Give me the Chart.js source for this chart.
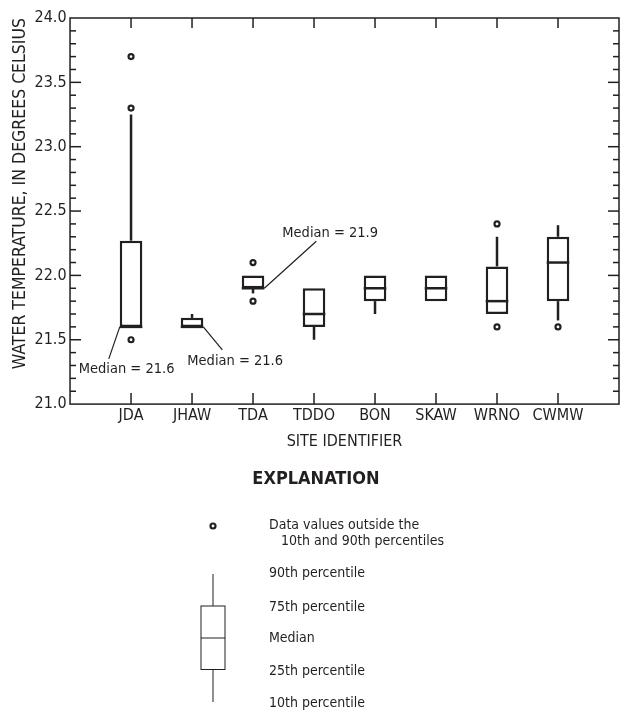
<!DOCTYPE html>
<html>
<head>
<meta charset="utf-8">
<title>Water temperature by site</title>
<script src="https://cdn.jsdelivr.net/npm/chart.js@4.4.1/dist/chart.umd.min.js"></script>
<style>
  html, body { margin: 0; padding: 0; background: #fff; }
</style>
</head>
<body>
<canvas id="tempChart" width="621" height="710"></canvas>
<script>
// site order along the x axis
const sites = ['JDA', 'JHAW', 'TDA', 'TDDO', 'BON', 'SKAW', 'WRNO', 'CWMW'];

// percentiles, degrees Celsius
const p10    = [21.60, 21.60, 21.86, 21.50, 21.70, 21.80, 21.70, 21.65];
const q1     = [21.60, 21.60, 21.90, 21.60, 21.80, 21.80, 21.70, 21.80];
const median = [21.60, 21.60, 21.90, 21.70, 21.90, 21.90, 21.80, 22.10];
const q3     = [22.27, 21.67, 22.00, 21.90, 22.00, 22.00, 22.07, 22.30];
const p90    = [23.25, 21.70, 22.00, 21.90, 22.00, 22.00, 22.30, 22.39];

// values outside the 10th and 90th percentiles
const outliers = [[23.7, 23.3, 21.5], [], [22.1, 21.8], [], [], [], [22.4, 21.6], [21.6]];

// sites that get a "Median = " callout
const notedSites = ['JDA', 'JHAW', 'TDA'];

const legendLabels = ['90th percentile', '75th percentile', 'Median', '25th percentile', '10th percentile'];

const ink = '#231f20';
const family = "'Liberation Sans Narrow', 'DejaVu Sans Condensed', 'Arial Narrow', sans-serif";

function seg(ctx, x1, y1, x2, y2) {
    ctx.beginPath();
    ctx.moveTo(x1, y1);
    ctx.lineTo(x2, y2);
    ctx.stroke();
}

const boxExtras = {
    id: 'boxExtras',
    beforeDatasetsDraw(chart) {
        const {ctx, scales: {x, y}} = chart;
        ctx.save();
        ctx.strokeStyle = ink;
        ctx.lineWidth = 2.5;
        // whiskers
        sites.forEach((s, i) => {
            const px = x.getPixelForValue(i + 1);
            if (p90[i] > q3[i]) seg(ctx, px, y.getPixelForValue(q3[i]), px, y.getPixelForValue(p90[i]));
            if (p10[i] < q1[i]) seg(ctx, px, y.getPixelForValue(q1[i]), px, y.getPixelForValue(p10[i]));
        });
        ctx.restore();
    },
    afterDatasetsDraw(chart) {
        const {ctx, chartArea: a, scales: {x, y}} = chart;
        const bars = chart.getDatasetMeta(0).data;
        ctx.save();
        ctx.strokeStyle = ink;

        // median lines
        ctx.lineWidth = 2.5;
        bars.forEach((bar, i) => {
            const {x: cx, width} = bar.getProps(['x', 'width'], true);
            const my = y.getPixelForValue(median[i]);
            seg(ctx, cx - width / 2, my, cx + width / 2, my);
        });

        // frame
        ctx.lineWidth = 1.5;
        ctx.strokeRect(a.left, a.top, a.right - a.left, a.bottom - a.top);

        // inward tick marks
        for (let k = 1; k < 30; k++) {
            const py = y.getPixelForValue(21 + k / 10);
            const len = k % 5 === 0 ? 11 : 6;
            seg(ctx, a.left, py, a.left + len, py);
            seg(ctx, a.right, py, a.right - len, py);
        }
        sites.forEach((s, i) => {
            const px = x.getPixelForValue(i + 1);
            seg(ctx, px, a.bottom, px, a.bottom - 11);
            seg(ctx, px, a.top, px, a.top + 10);
        });

        // median callouts
        ctx.lineWidth = 1.2;
        ctx.fillStyle = ink;
        ctx.font = '14.5px ' + family;
        ctx.textBaseline = 'middle';
        notedSites.forEach(name => {
            const i = sites.indexOf(name);
            const {x: cx, width} = bars[i].getProps(['x', 'width'], true);
            const my = y.getPixelForValue(median[i]);
            const label = 'Median = ' + median[i].toFixed(1);
            if (name === 'JDA') {
                const ax = cx - width / 2;
                seg(ctx, ax, my, ax - 11, my + 32);
                ctx.fillText(label, ax - 41, my + 42);
            } else if (name === 'JHAW') {
                const ax = cx + width / 2;
                seg(ctx, ax, my, ax + 19, my + 23);
                ctx.fillText(label, ax - 16, my + 34);
            } else {
                const ax = cx + width / 2;
                seg(ctx, ax, my, ax + 52, my - 47);
                ctx.fillText(label, ax + 18, my - 55);
            }
        });
        ctx.restore();
    },
    afterDraw(chart) {
        // explanation key under the plot
        const {ctx} = chart;
        const gx = 213, tx = 269;
        ctx.save();
        ctx.fillStyle = ink;
        ctx.strokeStyle = ink;
        ctx.textBaseline = 'middle';

        ctx.font = 'bold 18px ' + family;
        ctx.textAlign = 'center';
        ctx.fillText('EXPLANATION', 316, 479);

        ctx.textAlign = 'left';
        ctx.font = '14px ' + family;
        ctx.lineWidth = 2.2;
        ctx.beginPath();
        ctx.arc(gx, 526, 2.5, 0, Math.PI * 2);
        ctx.stroke();
        ctx.fillText('Data values outside the', tx, 525);
        ctx.fillText('10th and 90th percentiles', tx + 12, 541);

        ctx.lineWidth = 1;
        seg(ctx, gx, 574, gx, 606);
        ctx.strokeRect(201, 606, 24, 63.5);
        seg(ctx, 201, 638, 225, 638);
        seg(ctx, gx, 669.5, gx, 702);

        const rows = [573, 607, 638, 671, 703];
        legendLabels.forEach((t, i) => ctx.fillText(t, tx, rows[i]));
        ctx.restore();
    }
};

new Chart(document.getElementById('tempChart'), {
    type: 'bar',
    data: {
        datasets: [{
            label: 'Interquartile range',
            data: sites.map((s, i) => ({x: i + 1, y: [q1[i], q3[i]]})),
            backgroundColor: '#ffffff',
            borderColor: ink,
            borderWidth: 2.5,
            borderSkipped: false,
            barPercentage: 0.37,
            categoryPercentage: 1
        }, {
            type: 'scatter',
            label: 'Outside 10th-90th percentile',
            data: outliers.flatMap((vals, i) => vals.map(v => ({x: i + 1, y: v}))),
            pointStyle: 'circle',
            pointRadius: 2.5,
            pointBorderWidth: 2.2,
            pointBorderColor: ink,
            pointBackgroundColor: '#ffffff'
        }]
    },
    options: {
        responsive: false,
        animation: false,
        layout: {autoPadding: false, padding: {left: 0, right: 2, top: 18, bottom: 258.5}},
        plugins: {legend: {display: false}, tooltip: {enabled: false}},
        scales: {
            x: {
                type: 'linear',
                min: 0,
                max: 9,
                offset: false,
                grid: {display: false, drawTicks: false},
                border: {display: false},
                // end ticks carry no label, so no side padding is needed
                afterFit: s => { s.paddingLeft = 0; s.paddingRight = 0; },
                ticks: {
                    stepSize: 1,
                    autoSkip: false,
                    maxRotation: 0,
                    padding: 2,
                    color: ink,
                    font: {family: family, size: 16},
                    callback: v => sites[v - 1] || ''
                },
                title: {display: true, text: 'SITE IDENTIFIER', color: ink, font: {family: family, size: 16}, padding: {top: 5, bottom: 0}}
            },
            y: {
                min: 21,
                max: 24,
                grid: {display: false, drawTicks: false},
                border: {display: false},
                ticks: {
                    stepSize: 0.5,
                    padding: 3.5,
                    color: ink,
                    font: {family: family, size: 16},
                    callback: v => v.toFixed(1)
                },
                title: {display: true, text: 'WATER TEMPERATURE, IN DEGREES CELSIUS', align: 'end', color: ink, font: {family: family, size: 17.5}, padding: {top: 10, bottom: 0}}
            }
        }
    },
    plugins: [boxExtras]
});
</script>
</body>
</html>
